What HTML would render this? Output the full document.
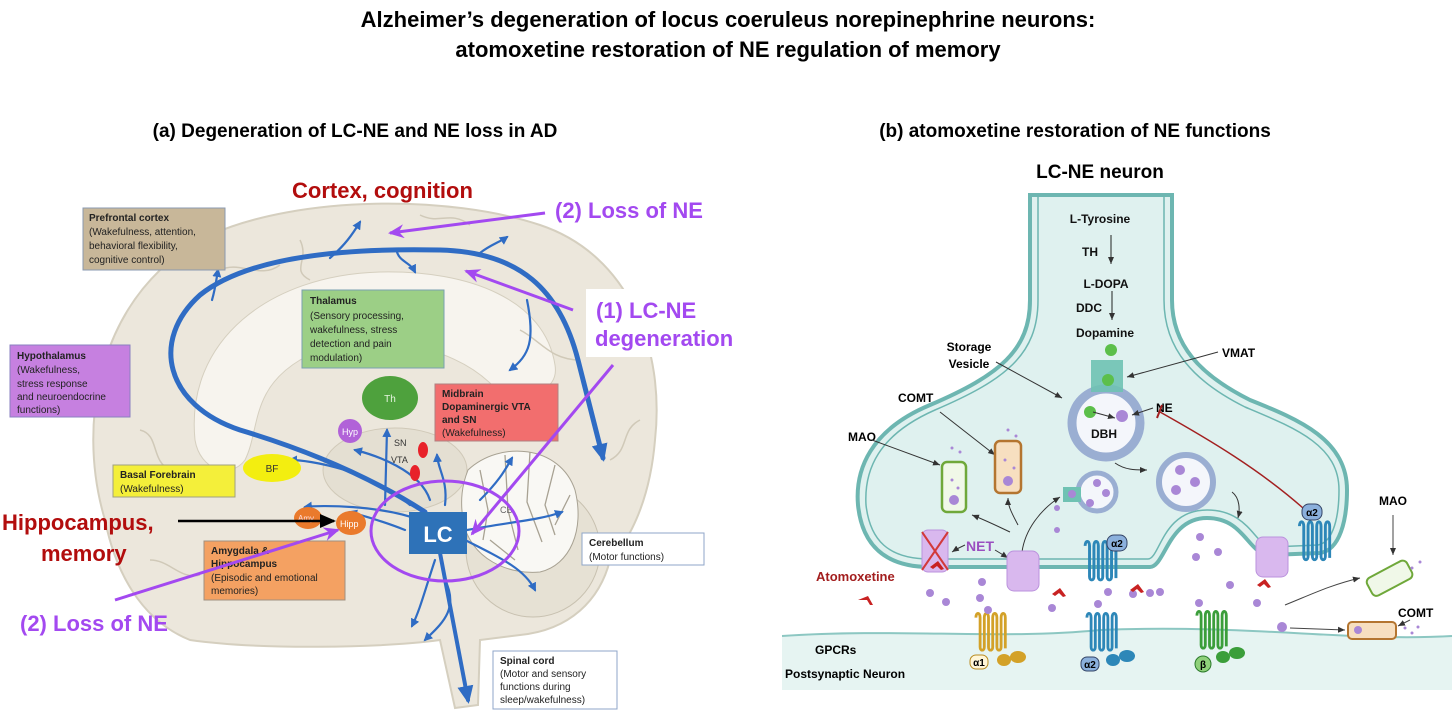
<!DOCTYPE html>
<html><head><meta charset="utf-8"><style>
body{margin:0;background:#fff;width:1456px;height:714px;overflow:hidden}
svg{display:block;font-family:"Liberation Sans",Arial,sans-serif}
</style></head><body>
<svg width="1456" height="714" viewBox="0 0 1456 714" xmlns="http://www.w3.org/2000/svg">
<defs>
<marker id="ab" markerUnits="userSpaceOnUse" markerWidth="12" markerHeight="12" refX="9" refY="6" orient="auto"><path d="M0,1 L11,6 L0,11 Z" fill="#2f6cc4"/></marker>
<marker id="abs" markerUnits="userSpaceOnUse" markerWidth="9" markerHeight="9" refX="7" refY="4.5" orient="auto"><path d="M0,0 L9,4.5 L0,9 Z" fill="#2f6cc4"/></marker>
<marker id="abl" markerUnits="userSpaceOnUse" markerWidth="18" markerHeight="18" refX="14" refY="9" orient="auto"><path d="M0,1 L18,9 L0,17 Z" fill="#2f6cc4"/></marker>
<marker id="ap" markerUnits="userSpaceOnUse" markerWidth="16" markerHeight="14" refX="14" refY="7" orient="auto"><path d="M0,0 L16,7 L0,14 L5,7 Z" fill="#a349f0"/></marker>
<marker id="ak" markerUnits="userSpaceOnUse" markerWidth="16" markerHeight="14" refX="14" refY="7" orient="auto"><path d="M0,0 L16,7 L0,14 Z" fill="#000"/></marker>
<marker id="as" markerUnits="userSpaceOnUse" markerWidth="8" markerHeight="8" refX="7" refY="4" orient="auto"><path d="M0,1 L7,4 L0,7 Z" fill="#333"/></marker>
<symbol id="rec" viewBox="0 0 50 60"><path d="M2,8 C2,0 8,0 8,8 L8,50 C8,56 14,56 14,50 L14,8 C14,0 20,0 20,8 L20,50 C20,56 26,56 26,50 L26,8 C26,0 32,0 32,8 L32,50 C32,56 38,56 38,50 L38,8 C38,0 44,0 44,8 L44,52" fill="none" stroke="currentColor" stroke-width="4"/></symbol>
</defs>

<text x="728" y="27" font-size="22" font-weight="bold" text-anchor="middle">Alzheimer’s degeneration of locus coeruleus norepinephrine neurons:</text>
<text x="728" y="57" font-size="22" font-weight="bold" text-anchor="middle">atomoxetine restoration of NE regulation of memory</text>
<text x="355" y="137" font-size="19" font-weight="bold" text-anchor="middle">(a) Degeneration of LC-NE and NE loss in AD</text>
<text x="1075" y="137" font-size="19" font-weight="bold" text-anchor="middle">(b) atomoxetine restoration of NE functions</text>

<!-- brain -->
<path d="M105,520 C75,420 100,290 210,235 C300,195 450,195 540,225 C630,255 665,350 655,440 C650,500 630,540 610,560 C600,600 570,630 520,635 L480,640 L478,705 L455,708 L440,640 C380,648 260,650 190,640 C140,620 115,570 105,520 Z" fill="#ece7dc" stroke="#d5cfbf" stroke-width="2"/>
<path d="M195,440 C185,340 270,275 380,272 C470,270 545,300 555,365 C560,395 520,400 495,388 C450,340 360,330 300,360 C250,390 260,430 245,460 C230,480 200,470 195,440 Z" fill="#f7f4ee" stroke="#d5cfbf"/>
<ellipse cx="395" cy="470" rx="72" ry="42" fill="#e4dfd2" stroke="#d0c9b8"/>
<circle cx="533" cy="550" r="67" fill="#e6e1d4" stroke="#c8c1b0"/>
<path d="M468,470 C500,440 560,445 575,490 C585,530 570,565 540,572 C510,575 470,560 463,520 C460,500 462,485 468,470 Z" fill="#f9f8f4" stroke="#a8a293"/>
<g stroke="#a8a293" fill="none" stroke-width="1.3">
<path d="M480,470 l8,40 l-5,30 M505,455 l3,55 l10,40 M530,452 l-3,50 l15,40 M555,465 l-10,40 l10,30 M570,495 l-15,30 M490,540 l25,20"/>
</g>
<g stroke="#d0c9b8" fill="none" stroke-width="1.5">
<path d="M220,270 c20,-10 40,10 60,-5 M420,215 c20,10 30,-5 50,10 M590,290 c10,20 30,20 40,40 M140,430 c20,5 10,30 30,40 M640,420 c-20,10 -10,30 -30,40 M300,240 c10,20 -10,30 10,40 M150,560 c20,0 30,20 50,15 M520,330 c20,10 30,30 60,30"/>
</g>

<g fill="none" stroke="#2f6cc4" stroke-linecap="round">
<path d="M425,512 C360,470 290,445 240,430 C165,405 150,340 200,295 C250,255 350,248 440,250 C520,252 560,290 578,360 C588,400 596,430 603,458" stroke-width="5" marker-end="url(#abl)"/>
<path d="M440,553 L468,700" stroke-width="4" marker-end="url(#abl)"/>
<g stroke-width="2.2" marker-end="url(#abs)">
<path d="M330,258 C345,245 352,235 360,222"/>
<path d="M397,252 C400,262 410,262 415,272"/>
<path d="M480,253 C490,245 500,242 507,237"/>
<path d="M212,300 C215,290 216,282 218,270"/>
<path d="M527,300 C535,340 530,355 510,370"/>
<path d="M385,505 L387,430"/>
<path d="M420,520 C380,505 320,505 305,507"/>
<path d="M405,530 C380,520 360,515 350,512"/>
<path d="M410,505 C370,470 310,460 290,460"/>
<path d="M430,500 C420,470 375,455 355,450"/>
<path d="M445,505 C448,480 438,470 437,455"/>
<path d="M467,530 C510,522 540,520 562,512"/>
<path d="M465,540 C505,560 525,570 535,590"/>
<path d="M435,560 C425,590 420,610 412,626"/>
<path d="M445,580 C460,610 440,625 425,640"/>
<path d="M480,500 C500,480 505,470 512,458"/>
</g></g>

<rect x="83" y="208" width="142" height="62" fill="#c8b799" stroke="#8a9ab0"/>
<text font-size="10" fill="#222"><tspan x="89" y="221" font-weight="bold">Prefrontal cortex</tspan><tspan x="89" y="235">(Wakefulness, attention,</tspan><tspan x="89" y="249">behavioral flexibility,</tspan><tspan x="89" y="263">cognitive control)</tspan></text>
<rect x="302" y="290" width="142" height="78" fill="#9ccf86" stroke="#7aa0b0"/>
<text font-size="10" fill="#222"><tspan x="310" y="304" font-weight="bold">Thalamus</tspan><tspan x="310" y="319">(Sensory processing,</tspan><tspan x="310" y="333">wakefulness, stress</tspan><tspan x="310" y="347">detection and pain</tspan><tspan x="310" y="361">modulation)</tspan></text>
<rect x="10" y="345" width="120" height="72" fill="#c680e0" stroke="#8a80c0"/>
<text font-size="10" fill="#222"><tspan x="17" y="359" font-weight="bold">Hypothalamus</tspan><tspan x="17" y="373">(Wakefulness,</tspan><tspan x="17" y="387">stress response</tspan><tspan x="17" y="400">and neuroendocrine</tspan><tspan x="17" y="413">functions)</tspan></text>
<rect x="435" y="384" width="123" height="57" fill="#f26e6e" stroke="#b08080"/>
<text font-size="10" fill="#222"><tspan x="442" y="397" font-weight="bold">Midbrain</tspan><tspan x="442" y="410" font-weight="bold">Dopaminergic VTA</tspan><tspan x="442" y="423" font-weight="bold">and SN</tspan><tspan x="442" y="436">(Wakefulness)</tspan></text>
<rect x="113" y="465" width="122" height="32" fill="#f4ef3a" stroke="#a0a080"/>
<text font-size="10" fill="#222"><tspan x="120" y="478" font-weight="bold">Basal Forebrain</tspan><tspan x="120" y="492">(Wakefulness)</tspan></text>
<rect x="204" y="541" width="141" height="59" fill="#f4a162" stroke="#a09080"/>
<text font-size="10" fill="#222"><tspan x="211" y="554" font-weight="bold">Amygdala &amp;</tspan><tspan x="211" y="567" font-weight="bold">Hippocampus</tspan><tspan x="211" y="581">(Episodic and emotional</tspan><tspan x="211" y="594">memories)</tspan></text>
<rect x="582" y="533" width="122" height="32" fill="#fff" stroke="#8fa6c8"/>
<text font-size="10" fill="#222"><tspan x="589" y="546" font-weight="bold">Cerebellum</tspan><tspan x="589" y="560">(Motor functions)</tspan></text>
<rect x="493" y="651" width="124" height="58" fill="#fff" stroke="#8fa6c8"/>
<text font-size="10" fill="#222"><tspan x="500" y="664" font-weight="bold">Spinal cord</tspan><tspan x="500" y="677">(Motor and sensory</tspan><tspan x="500" y="690">functions during</tspan><tspan x="500" y="703">sleep/wakefulness)</tspan></text>

<ellipse cx="390" cy="398" rx="28" ry="22" fill="#4ea13d"/><text x="390" y="402" font-size="10" fill="#e6f5e0" text-anchor="middle">Th</text>
<circle cx="350" cy="431" r="12" fill="#b162d8"/><text x="350" y="435" font-size="9" fill="#fff" text-anchor="middle">Hyp</text>
<ellipse cx="272" cy="468" rx="29" ry="14" fill="#f3ee10"/><text x="272" y="472" font-size="10" text-anchor="middle" fill="#333">BF</text>
<text x="394" y="446" font-size="9" fill="#333">SN</text><text x="391" y="463" font-size="9" fill="#333">VTA</text>
<ellipse cx="423" cy="450" rx="5" ry="8" fill="#e8222a"/><ellipse cx="415" cy="473" rx="5" ry="8" fill="#e8222a"/>
<ellipse cx="308" cy="518" rx="14" ry="11" fill="#ea7a2c"/><text x="298" y="521" font-size="8" fill="#fdd">Amy</text>
<ellipse cx="351" cy="523" rx="15" ry="12" fill="#ea7a2c"/><text x="340" y="527" font-size="9" fill="#fff">Hipp</text>
<rect x="409" y="512" width="58" height="42" fill="#2e72b8"/><text x="438" y="542" font-size="22" font-weight="bold" fill="#fff" text-anchor="middle">LC</text>
<text x="500" y="513" font-size="9" fill="#666">CB</text>
<ellipse cx="445" cy="531" rx="74" ry="50" fill="none" stroke="#a349f0" stroke-width="3"/>

<text x="292" y="198" font-size="22" font-weight="bold" fill="#b20d0d">Cortex, cognition</text>
<text x="555" y="218" font-size="22" font-weight="bold" fill="#a349f0">(2) Loss of NE</text>
<line x1="545" y1="213" x2="390" y2="233" stroke="#a349f0" stroke-width="3" marker-end="url(#ap)"/>
<rect x="586" y="289" width="174" height="68" fill="#fff"/>
<text x="596" y="318" font-size="22" font-weight="bold" fill="#a349f0">(1)  LC-NE</text>
<text x="595" y="346" font-size="22" font-weight="bold" fill="#a349f0">degeneration</text>
<line x1="573" y1="310" x2="466" y2="271" stroke="#a349f0" stroke-width="3" marker-end="url(#ap)"/>
<line x1="613" y1="365" x2="472" y2="534" stroke="#a349f0" stroke-width="3" marker-end="url(#ap)"/>
<text x="2" y="530" font-size="22" font-weight="bold" fill="#b20d0d">Hippocampus,</text>
<text x="41" y="561" font-size="22" font-weight="bold" fill="#b20d0d">memory</text>
<line x1="178" y1="521" x2="334" y2="521" stroke="#000" stroke-width="2.5" marker-end="url(#ak)"/>
<text x="20" y="631" font-size="22" font-weight="bold" fill="#a349f0">(2) Loss of NE</text>
<line x1="115" y1="600" x2="338" y2="530" stroke="#a349f0" stroke-width="3" marker-end="url(#ap)"/>

<!-- RIGHT PANEL -->
<text x="1100" y="178" font-size="19" font-weight="bold" text-anchor="middle">LC-NE neuron</text>
<path d="M782,636 C900,628 1000,640 1100,630 C1250,624 1350,642 1452,636 L1452,690 L782,690 Z" fill="#e6f4f2"/>
<path d="M782,636 C900,628 1000,640 1100,630 C1250,624 1350,642 1452,636" fill="none" stroke="#8cc7c2" stroke-width="2"/>
<path d="M1030,195 L1030,300 C1030,350 1000,375 930,405 C870,430 855,470 858,505 C862,545 885,567 930,567 L1150,567 C1165,567 1168,518 1207,518 C1245,518 1248,555 1270,555 L1320,553 C1340,550 1347,520 1347,490 C1347,440 1300,420 1250,400 C1200,375 1172,345 1172,300 L1172,195 Z" fill="#dff1ef" stroke="#6db6b1" stroke-width="4"/>
<path d="M1038,195 L1038,300 C1038,355 1005,380 935,410 C878,435 864,470 866,505 C870,540 888,559 930,559 L1148,559 C1160,559 1162,510 1207,510 C1250,510 1255,547 1272,547 L1318,545 C1334,542 1339,515 1339,490 C1339,445 1295,428 1245,407 C1195,382 1164,350 1164,300 L1164,195" fill="none" stroke="#6db6b1" stroke-width="1.5"/>

<text font-size="12" font-weight="bold" fill="#111" text-anchor="middle">
<tspan x="1100" y="223">L-Tyrosine</tspan><tspan x="1090" y="256">TH</tspan><tspan x="1106" y="288">L-DOPA</tspan><tspan x="1089" y="312">DDC</tspan><tspan x="1105" y="337">Dopamine</tspan></text>
<g stroke="#222" stroke-width="1"><line x1="1111" y1="235" x2="1111" y2="264" marker-end="url(#as)"/><line x1="1112" y1="291" x2="1112" y2="320" marker-end="url(#as)"/></g>
<circle cx="1106" cy="423" r="34" fill="#f4f6fb" stroke="#9aaed2" stroke-width="9"/>
<rect x="1091" y="360" width="32" height="32" fill="#6fc2b3" opacity=".9"/>
<circle cx="1111" cy="350" r="6" fill="#5cbf4a"/><circle cx="1108" cy="380" r="6" fill="#5cbf4a"/>
<circle cx="1090" cy="412" r="6" fill="#5cbf4a"/><circle cx="1122" cy="416" r="6" fill="#a987d6"/>
<text x="1104" y="438" font-size="12" font-weight="bold" fill="#111" text-anchor="middle">DBH</text>
<text x="1156" y="412" font-size="12" font-weight="bold">NE</text>
<text font-size="12" font-weight="bold" text-anchor="middle"><tspan x="969" y="351">Storage</tspan><tspan x="969" y="368">Vesicle</tspan></text>
<text x="1222" y="357" font-size="12" font-weight="bold">VMAT</text>
<text x="898" y="402" font-size="12" font-weight="bold">COMT</text>
<text x="848" y="441" font-size="12" font-weight="bold">MAO</text>
<g stroke="#333" stroke-width="1" fill="none">
<line x1="996" y1="362" x2="1062" y2="398" marker-end="url(#as)"/>
<line x1="1218" y1="352" x2="1127" y2="377" marker-end="url(#as)"/>
<line x1="1153" y1="408" x2="1132" y2="415" marker-end="url(#as)"/>
<line x1="1093" y1="412" x2="1115" y2="418" marker-end="url(#as)"/>
<line x1="940" y1="412" x2="995" y2="455" marker-end="url(#as)"/>
<line x1="872" y1="440" x2="940" y2="465" marker-end="url(#as)"/>
<path d="M1115,463 C1125,470 1135,470 1147,470" marker-end="url(#as)"/>
<path d="M1232,492 C1240,498 1240,510 1238,518" marker-end="url(#as)"/>
<path d="M1022,552 C1025,530 1040,510 1060,497" marker-end="url(#as)"/>
<path d="M1018,525 C1010,510 1008,505 1008,498" marker-end="url(#as)"/>
<path d="M1010,532 C995,525 985,520 972,515" marker-end="url(#as)"/>
<path d="M965,545 C958,548 955,550 952,552" marker-end="url(#as)"/>
<path d="M995,550 C1000,553 1005,556 1008,558" marker-end="url(#as)"/>
</g>
<path d="M1303,508 C1260,470 1210,440 1160,412" stroke="#a32020" stroke-width="1.5" fill="none"/>
<line x1="1162" y1="405" x2="1157" y2="418" stroke="#a32020" stroke-width="2"/>
<rect x="942" y="462" width="24" height="50" rx="5" fill="#f0f8e8" stroke="#6fa83a" stroke-width="2.5"/><circle cx="954" cy="500" r="5" fill="#a987d6"/>
<rect x="995" y="441" width="26" height="52" rx="5" fill="#f7dfc0" stroke="#b47530" stroke-width="2.5"/><circle cx="1008" cy="481" r="5" fill="#a987d6"/>
<g fill="#a987d6"><circle cx="952" cy="480" r="1.5"/><circle cx="958" cy="488" r="1.5"/><circle cx="1005" cy="460" r="1.5"/><circle cx="1014" cy="468" r="1.5"/><circle cx="1008" cy="430" r="1.5"/><circle cx="1016" cy="436" r="1.5"/><circle cx="952" cy="448" r="1.5"/><circle cx="960" cy="452" r="1.5"/></g>
<circle cx="1097" cy="492" r="19" fill="#f4f6fb" stroke="#9aaed2" stroke-width="5"/>
<rect x="1063" y="487" width="18" height="15" fill="#6fc2b3"/>
<circle cx="1186" cy="482" r="27" fill="#f4f6fb" stroke="#9aaed2" stroke-width="6"/>
<g fill="#a987d6"><circle cx="1180" cy="470" r="5"/><circle cx="1195" cy="482" r="5"/><circle cx="1176" cy="490" r="5"/><circle cx="1097" cy="483" r="4"/><circle cx="1106" cy="493" r="4"/><circle cx="1090" cy="503" r="4"/><circle cx="1072" cy="494" r="4"/></g>
<rect x="922" y="530" width="26" height="42" rx="6" fill="#d9b8ee" stroke="#bb92dd"/>
<path d="M922,532 L948,570 M948,532 L922,570" stroke="#d23a3a" stroke-width="2"/>
<rect x="1007" y="551" width="32" height="40" rx="7" fill="#d9b8ee" stroke="#bb92dd"/>
<rect x="1256" y="537" width="32" height="40" rx="7" fill="#d9b8ee" stroke="#bb92dd"/>
<text x="966" y="551" font-size="14" font-weight="bold" fill="#9a4ec0">NET</text>
<use href="#rec" x="1082" y="540" width="40" height="44" color="#2d87b8"/>
<use href="#rec" x="1298" y="520" width="36" height="44" color="#2d87b8"/>
<use href="#rec" x="972" y="612" width="40" height="42" color="#d3a128"/>
<use href="#rec" x="1083" y="612" width="40" height="42" color="#2d87b8"/>
<use href="#rec" x="1193" y="610" width="40" height="42" color="#3b9e3a"/>
<g font-size="10" font-weight="bold" text-anchor="middle">
<rect x="1107" y="535" width="20" height="16" rx="7" fill="#8bb0dc" stroke="#346"/><text x="1117" y="547">α2</text>
<rect x="1302" y="504" width="20" height="16" rx="7" fill="#8bb0dc" stroke="#346"/><text x="1312" y="516">α2</text>
<rect x="970" y="655" width="18" height="14" rx="6" fill="#fff6d8" stroke="#b88a20"/><text x="979" y="666">α1</text>
<rect x="1081" y="657" width="18" height="14" rx="6" fill="#8bb0dc" stroke="#346"/><text x="1090" y="668">α2</text>
<circle cx="1203" cy="664" r="8" fill="#8fd07a" stroke="#2b7a2b"/><text x="1203" y="668">β</text>
</g>
<g><ellipse cx="1004" cy="660" rx="7" ry="6" fill="#d3a128"/><ellipse cx="1018" cy="657" rx="8" ry="6" fill="#d3a128"/>
<ellipse cx="1113" cy="660" rx="7" ry="6" fill="#2d87b8"/><ellipse cx="1127" cy="656" rx="8" ry="6" fill="#2d87b8"/>
<ellipse cx="1223" cy="657" rx="7" ry="6" fill="#3b9e3a"/><ellipse cx="1237" cy="653" rx="8" ry="6" fill="#3b9e3a"/></g>
<g fill="#a987d6">
<circle cx="930" cy="593" r="4"/><circle cx="946" cy="602" r="4"/><circle cx="980" cy="598" r="4"/><circle cx="982" cy="582" r="4"/><circle cx="988" cy="610" r="4"/>
<circle cx="1052" cy="608" r="4"/><circle cx="1098" cy="604" r="4"/><circle cx="1108" cy="592" r="4"/><circle cx="1133" cy="594" r="4"/>
<circle cx="1160" cy="592" r="4"/><circle cx="1199" cy="603" r="4"/><circle cx="1200" cy="537" r="4"/><circle cx="1196" cy="557" r="4"/><circle cx="1218" cy="552" r="4"/>
<circle cx="1230" cy="585" r="4"/><circle cx="1257" cy="603" r="4"/><circle cx="1057" cy="508" r="3"/><circle cx="1057" cy="530" r="3"/><circle cx="1150" cy="593" r="4"/>
</g>
<text x="816" y="581" font-size="13" font-weight="bold" fill="#a31e1e">Atomoxetine</text>
<g fill="#c82222"><path d="M858,600 l10,-4 l5,9 l-3,0 l-3,-5 z"/><path d="M930,567 l8,-6 l6,8 l-3,1 l-4,-4 l-4,3 z"/><path d="M1052,594 l8,-6 l6,8 l-3,1 l-4,-4 l-4,3 z"/><path d="M1130,590 l8,-6 l6,8 l-3,1 l-4,-4 l-4,3 z"/><path d="M1257,585 l8,-6 l6,8 l-3,1 l-4,-4 l-4,3 z"/></g>
<text x="1393" y="505" font-size="12" font-weight="bold" text-anchor="middle">MAO</text>
<rect x="1367" y="568" width="45" height="20" rx="5" fill="#f0f8e8" stroke="#6fa83a" stroke-width="2" transform="rotate(-28 1390 578)"/>
<text x="1398" y="617" font-size="12" font-weight="bold">COMT</text>
<rect x="1348" y="622" width="48" height="17" rx="4" fill="#f7dfc0" stroke="#b47530" stroke-width="2"/>
<circle cx="1358" cy="630" r="4" fill="#a987d6"/>
<g fill="#a987d6"><circle cx="1405" cy="628" r="1.5"/><circle cx="1412" cy="633" r="1.5"/><circle cx="1418" cy="627" r="1.5"/><circle cx="1412" cy="568" r="1.5"/><circle cx="1420" cy="562" r="1.5"/></g>
<g stroke="#444" stroke-width="1" fill="none">
<line x1="1393" y1="515" x2="1393" y2="555" marker-end="url(#as)"/>
<line x1="1410" y1="620" x2="1398" y2="626" marker-end="url(#as)"/>
<path d="M1285,605 C1310,595 1330,585 1360,578" marker-end="url(#as)"/>
<line x1="1290" y1="628" x2="1345" y2="630" marker-end="url(#as)"/>
</g>
<circle cx="1282" cy="627" r="5" fill="#a987d6"/>
<text x="815" y="654" font-size="12" font-weight="bold">GPCRs</text>
<text x="785" y="678" font-size="12" font-weight="bold">Postsynaptic Neuron</text>
</svg>
</body></html>
